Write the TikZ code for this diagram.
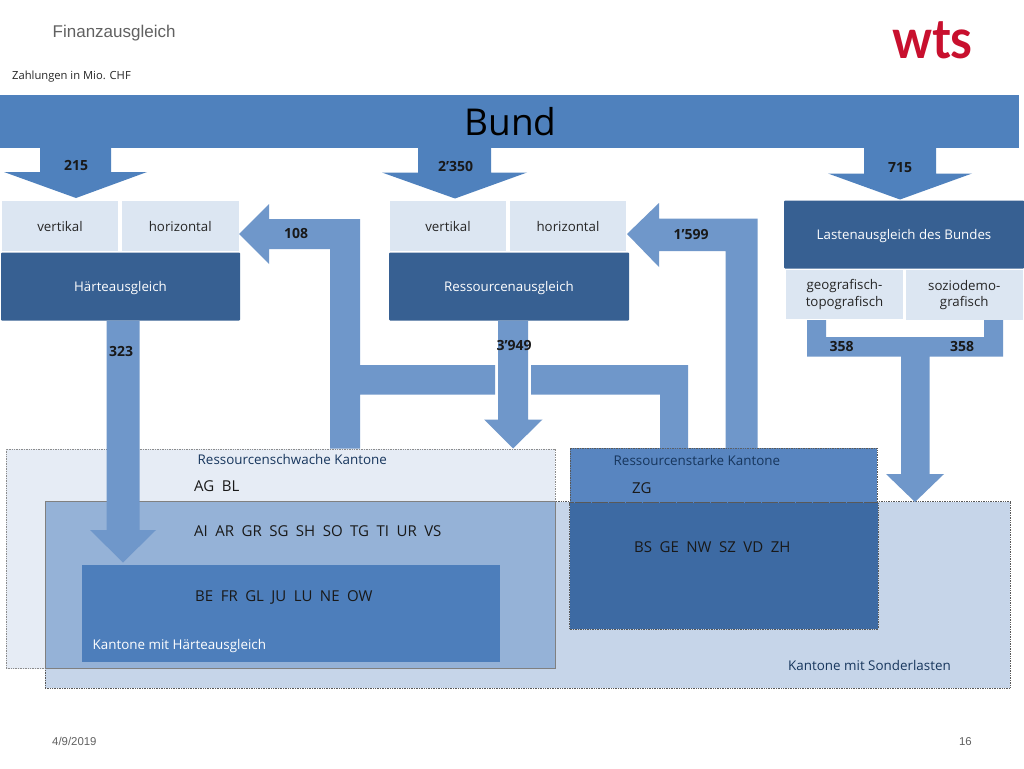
\documentclass[tikz,border=0pt]{standalone}
\usepackage{fontspec}
\setmainfont{Open Sans}[Ligatures=ResetAll]
\newfontfamily\arialf{Liberation Sans}
\newfontfamily\logof{Lato}
\newcommand{\fs}[1]{\fontsize{#1}{#1}\selectfont}
\newcommand{\dn}[2]{\raisebox{0pt}[\dimexpr\height+#1pt+#1pt\relax]{#2}}
\definecolor{bundblue}{HTML}{4F81BD}
\definecolor{darkbox}{HTML}{376092}
\definecolor{lightbox}{HTML}{DCE6F2}
\definecolor{flow}{HTML}{6F97CA}
\definecolor{schwach}{HTML}{E6ECF5}
\definecolor{sonder}{HTML}{C6D5E9}
\definecolor{overlapa}{HTML}{95B2D7}
\definecolor{haerte}{HTML}{4D7EBB}
\definecolor{stark}{HTML}{5885C0}
\definecolor{overlapb}{HTML}{3D6AA3}
\definecolor{labelnavy}{HTML}{17365D}
\definecolor{wtsred}{HTML}{C8102E}
\newcommand{\rbox}[7]{\node[#6,anchor=north west,minimum width={(#4-#2)*1pt},minimum height={(#5-#3)*1pt}] (#1) at (#2,#3) {#7};}
\tikzset{
  base/.style={inner sep=0pt,outer sep=0pt,align=center},
  sub/.style={base,fill=lightbox,text=black!85},
  dark/.style={base,fill=darkbox,text=white,rounded corners=1pt},
  flowarrow/.style={fill=flow,draw=none},
  bundarrow/.style={fill=bundblue,draw=none},
  grayedge/.style={draw=black!45,line width=.7pt,densely dotted},
  darkedge/.style={draw=black!65,line width=.7pt,densely dotted},
  amount/.style={inner sep=0pt,font=\fs{14}\bfseries,text=black!90},
  canton/.style={inner sep=0pt,anchor=west,font=\fs{15},text=black!90},
  areatitle/.style={inner sep=0pt,anchor=west,font=\fs{13.4}},
  subtext/.style={font=\fs{13.3}}
}
\begin{document}
\begin{tikzpicture}[x=1pt,y=-1pt]
\useasboundingbox (0,0) rectangle (1024,768);
\fill[white] (0,0) rectangle (1024,768);
% header
\node[inner sep=0pt,anchor=west,text=black!62,font=\arialf\fs{17}] (title) at (52.5,33.5) {Finanzausgleich};
\node[inner sep=0pt,anchor=base east,text=wtsred,font=\logof\fs{50}\bfseries,yscale=1.1] (logo) at (973,59) {wts};
\node[inner sep=0pt,anchor=west,text=black!85,font=\fs{11.2}] (unit) at (12,77) {Zahlungen in Mio. CHF};
% area boxes
\rbox{schwachbox}{6}{449}{555}{668.5}{base,fill=schwach,grayedge}{}
\rbox{sonderbox}{45}{501.5}{1010}{688}{base,fill=sonder,darkedge}{}
\rbox{overlapone}{45}{501.5}{555}{668.5}{base,fill=overlapa,draw=black!50,line width=.6pt}{}
\rbox{haertebox}{82}{564.5}{500}{662}{base,fill=haerte}{}
\rbox{starkbox}{570}{448}{877}{502.5}{base,fill=stark,darkedge}{}
\rbox{overlaptwo}{569.5}{502.5}{878}{629}{base,fill=overlapb,darkedge}{}
% Bund
\rbox{bund}{0}{95}{1019}{147.5}{base,fill=bundblue}{}
\node[inner sep=0pt,font=\fs{37}] (bundlabel) at (510.5,122) {Bund};
\fill[bundarrow] (40,147) -- (111,147) -- (111,172) -- (147,172) -- (76,198) -- (4,172) -- (40,172) -- cycle;
\fill[bundarrow] (418,147) -- (491,147) -- (491,172.5) -- (527,172.5) -- (455,198.5) -- (382,172.5) -- (418,172.5) -- cycle;
\fill[bundarrow] (864,147) -- (936,147) -- (936,173.5) -- (972,173.5) -- (900,199.5) -- (828,173.5) -- (864,173.5) -- cycle;
\node[amount] (a215) at (76,165.5) {215};
\node[amount] (a2350) at (455.5,166.5) {2'350};
\node[amount] (a715) at (900,167.5) {715};
% Haerte
\rbox{hv}{2}{200.5}{118}{250.5}{sub,subtext}{\dn{1}{vertikal}}
\rbox{hh}{122}{200.5}{238.5}{250.5}{sub,subtext}{\dn{1}{horizontal}}
\rbox{hbox}{1}{252.5}{240}{320.5}{dark,subtext}{\dn{2}{Härteausgleich}}
% Ressourcen
\rbox{rv}{390}{200.5}{506}{250.5}{sub,subtext}{\dn{1}{vertikal}}
\rbox{rh}{510}{200.5}{626}{250.5}{sub,subtext}{\dn{1}{horizontal}}
\rbox{rbox}{389}{252.5}{629}{320.5}{dark,subtext}{\dn{2}{Ressourcenausgleich}}
% Lasten
\rbox{lbox}{784}{200.5}{1024}{268.5}{dark,subtext}{\dn{2}{Lastenausgleich des Bundes}}
\rbox{lg}{786}{269.5}{903}{319}{sub,subtext}{geografisch-\\[2.5pt]topografisch}
\rbox{ls}{906}{269.5}{1022.5}{320}{sub,subtext}{soziodemo-\\[2.5pt]grafisch}
% flows
\fill[flowarrow] (239,234) -- (269,204) -- (269,219) -- (360,219) -- (360,365) -- (495,365) -- (495,394.5) -- (360,394.5) -- (360,448.5) -- (330,448.5) -- (330,249) -- (269,249) -- (269,264) -- cycle;
\fill[flowarrow] (627,234) -- (659,203) -- (659,218.5) -- (757.5,218.5) -- (757.5,448) -- (725.5,448) -- (725.5,251) -- (659,251) -- (659,267) -- cycle;
\fill[flowarrow] (531,365) -- (688,365) -- (688,448) -- (660,448) -- (660,394.5) -- (531,394.5) -- cycle;
\fill[flowarrow] (106.5,320.5) -- (139.5,320.5) -- (139.5,530) -- (156,530) -- (123,562.5) -- (90,530) -- (106.5,530) -- cycle;
\fill[flowarrow] (498,320.5) -- (528,320.5) -- (528,419.5) -- (542.5,419.5) -- (513,448.5) -- (484,419.5) -- (498,419.5) -- cycle;
\fill[flowarrow] (807,320) -- (826,320) -- (826,337) -- (984,337) -- (984,320) -- (1003,320) -- (1003,356.5) -- (929.5,356.5) -- (929.5,474) -- (944,474) -- (915,502) -- (886,474) -- (901,474) -- (901,356.5) -- (807,356.5) -- cycle;
\node[amount] (a108) at (296,233.5) {108};
\node[amount] (a1599) at (691,234.5) {1'599};
\node[amount] (a323) at (121,351.5) {323};
\node[amount] (a3949) at (514,345) {3'949};
\node[amount] (a358l) at (841.5,346.5) {358};
\node[amount] (a358r) at (962,346.5) {358};
% area texts
\node[areatitle,text=labelnavy] (tschwach) at (197.5,459) {Ressourcenschwache Kantone};
\node[canton] (cag) at (194,486) {AG\enspace BL};
\node[canton] (cai) at (194,531) {AI\enspace AR\enspace GR\enspace SG\enspace SH\enspace SO\enspace TG\enspace TI\enspace UR\enspace VS};
\node[canton] (cbe) at (195,597) {BE\enspace FR\enspace GL\enspace JU\enspace LU\enspace NE\enspace OW};
\node[areatitle,text=white] (thaerte) at (92.5,646) {Kantone mit Härteausgleich};
\node[areatitle,text=labelnavy] (tstark) at (613.5,460.5) {Ressourcenstarke Kantone};
\node[canton] (czg) at (632,488) {ZG};
\node[canton] (cbs) at (634,547.5) {BS\enspace GE\enspace NW\enspace SZ\enspace VD\enspace ZH};
\node[areatitle,text=labelnavy] (tsonder) at (788,665) {Kantone mit Sonderlasten};
% footer
\node[inner sep=0pt,anchor=west,text=black!62,font=\arialf\fs{11.4}] (date) at (52,741.5) {4/9/2019};
\node[inner sep=0pt,anchor=east,text=black!62,font=\arialf\fs{11.4}] (page) at (972,741.5) {16};
\end{tikzpicture}
\end{document}
